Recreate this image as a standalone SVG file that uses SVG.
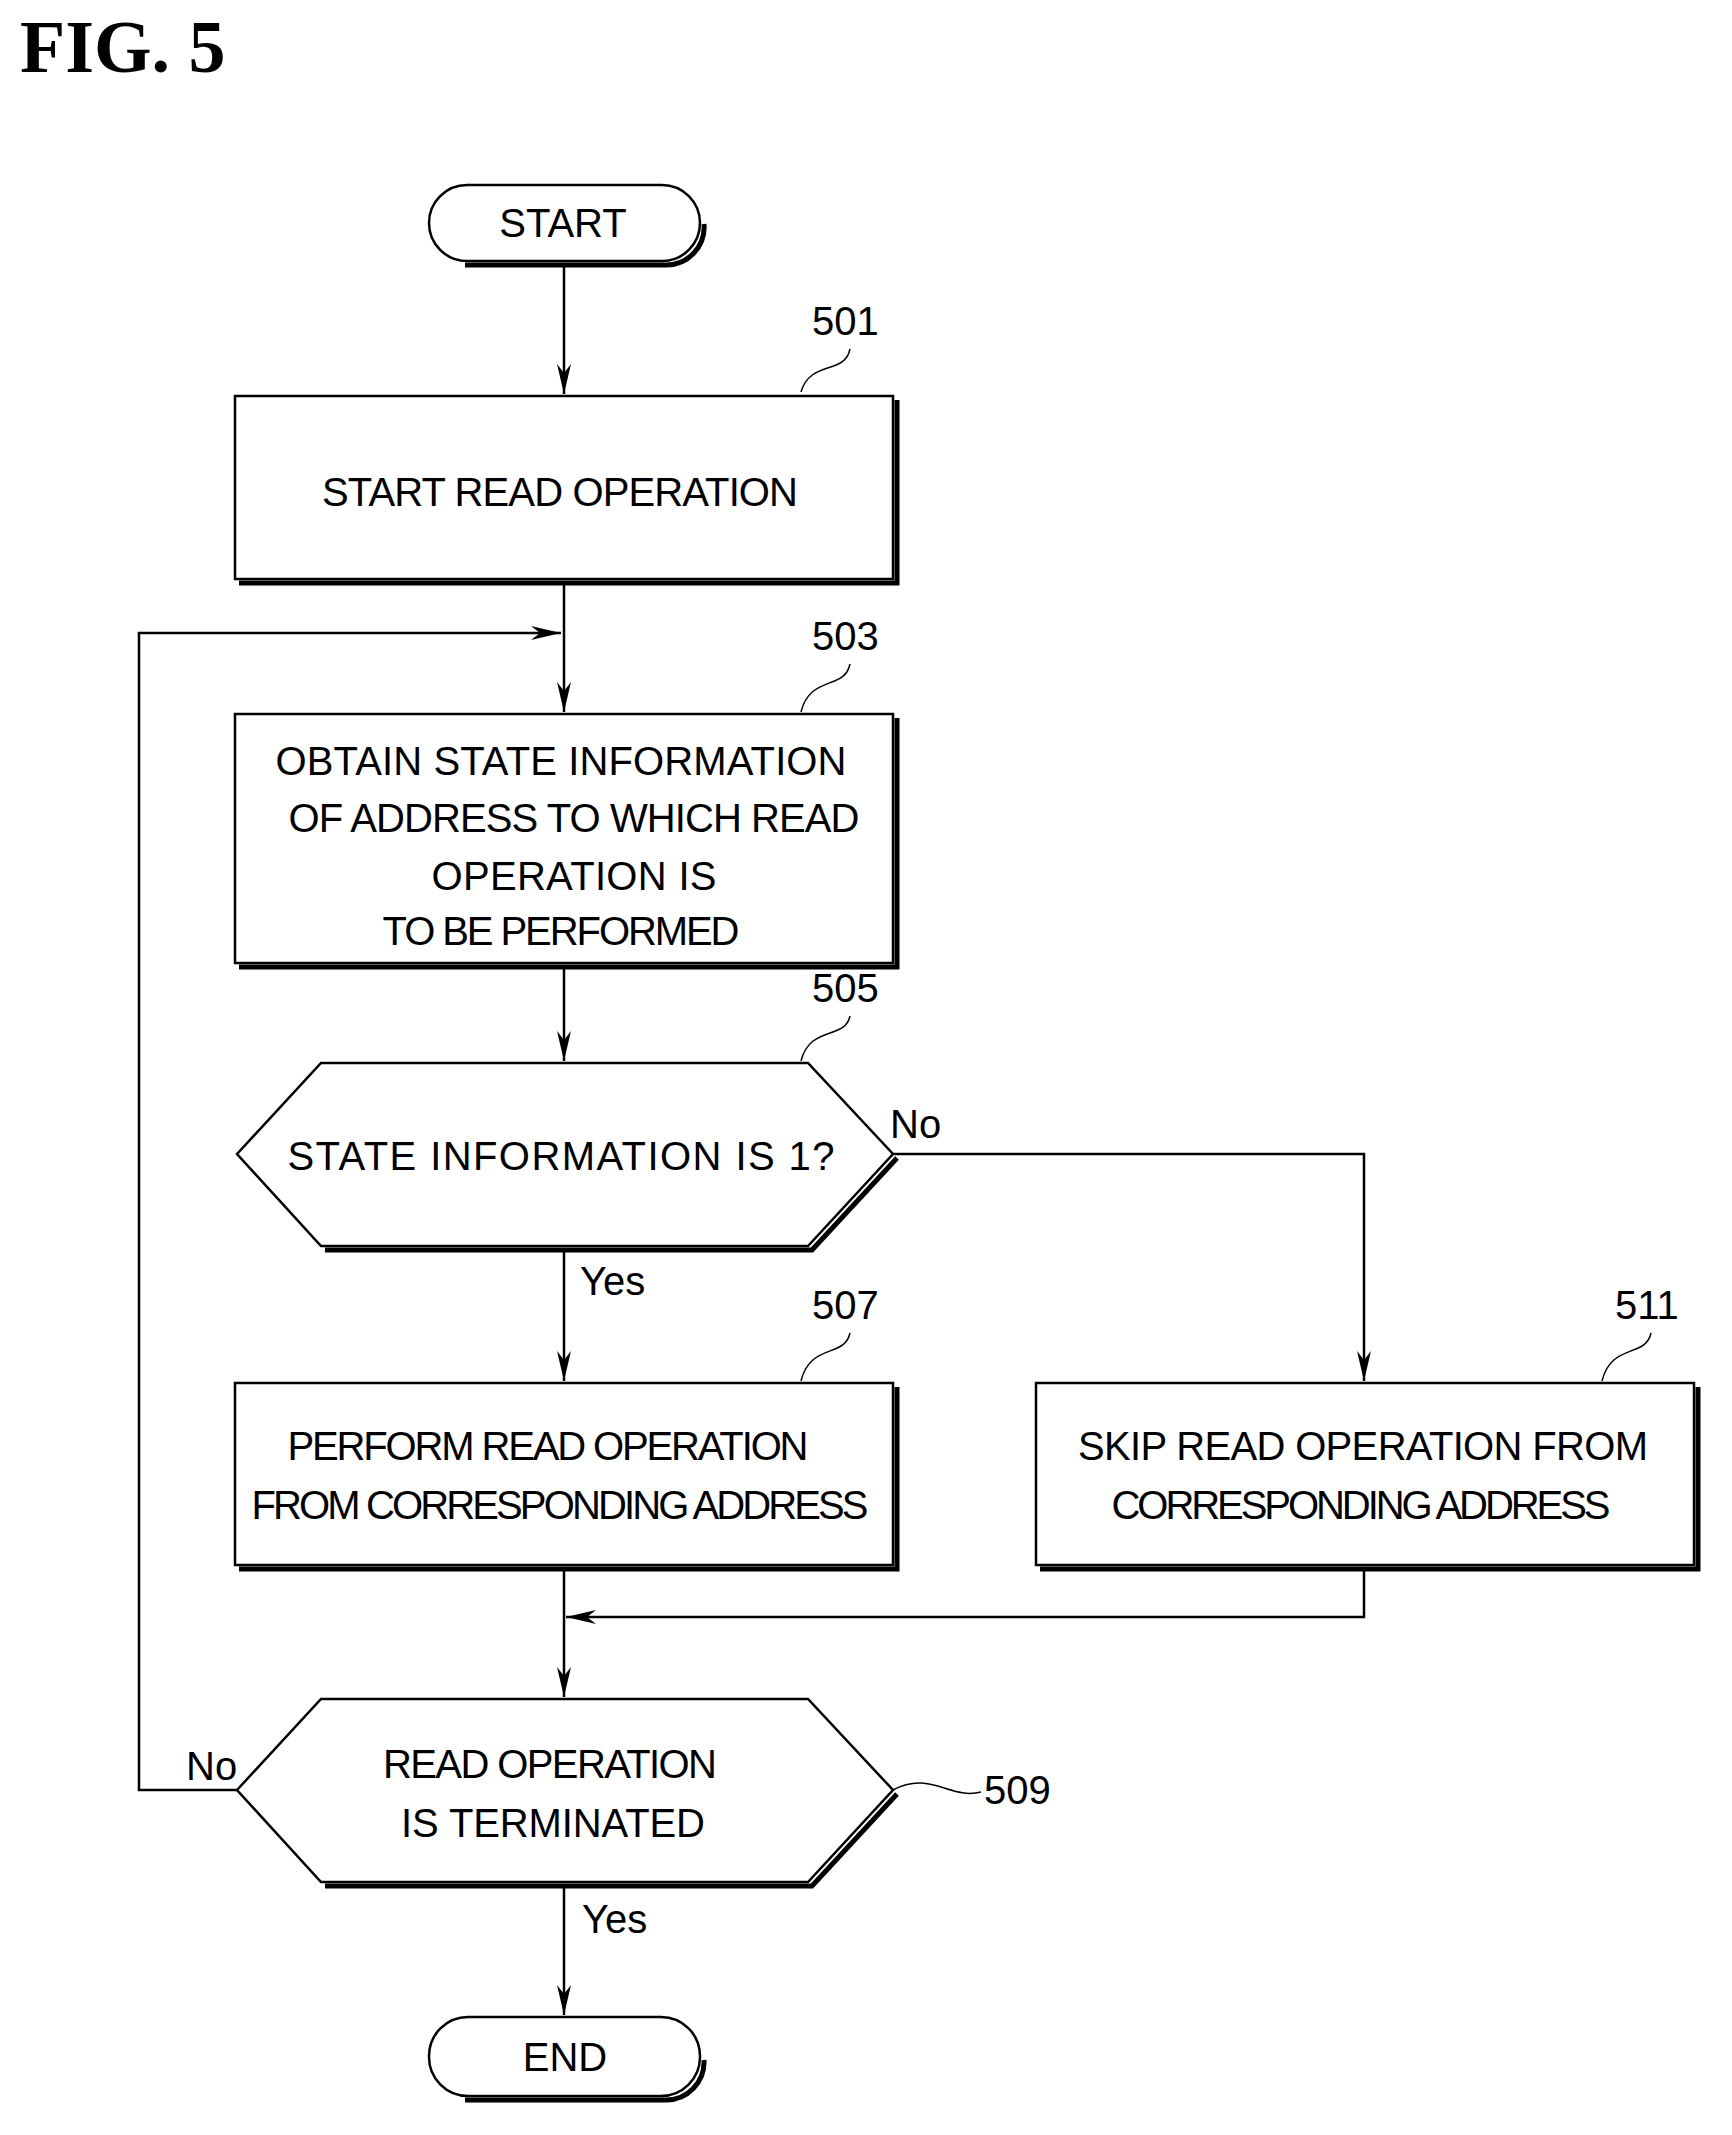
<svg xmlns="http://www.w3.org/2000/svg" width="1732" height="2135" viewBox="0 0 1732 2135">
<style>
.s{fill:#fff;stroke:#000;stroke-width:2.5}
.sh{fill:none;stroke:#000;stroke-width:5}
.t{font-family:"Liberation Sans",Arial,sans-serif;font-size:40px;text-anchor:middle;fill:#000}
.l{font-family:"Liberation Sans",Arial,sans-serif;font-size:40px;fill:#000}
.c{fill:none;stroke:#000;stroke-width:2.5}
.ld{fill:none;stroke:#000;stroke-width:1.5}
</style>
<defs><marker id="a" viewBox="0 0 30 14" refX="30" refY="7" markerWidth="30" markerHeight="14" markerUnits="userSpaceOnUse" orient="auto"><path d="M0,0 L30,7 L0,14 L9,7 z" fill="#000"/></marker></defs>
<rect width="1732" height="2135" fill="#fff"/>
<text x="20" y="72" font-family="Liberation Serif,serif" font-weight="bold" font-size="74">FIG. 5</text>
<g id="start"><path class="sh" d="M465,265 H665 A38,38 0 0 0 704,224"/><rect class="s" x="429" y="185" width="271" height="76" rx="38"/><text class="t" x="563" y="237">START</text></g>
<g id="n501"><path class="sh" d="M239,583 H897 V400"/><rect class="s" x="235" y="396" width="658" height="183"/><text class="t" x="560" y="506" textLength="476">START READ OPERATION</text><text class="l" x="812" y="335">501</text><path class="ld" d="M850,349 C845,375 810,360 801,392"/></g>
<g id="n503"><path class="sh" d="M239,967 H897 V718"/><rect class="s" x="235" y="714" width="658" height="249"/><text class="t" x="561" y="775" textLength="571">OBTAIN STATE INFORMATION</text><text class="t" x="574" y="832" textLength="571">OF ADDRESS TO WHICH READ</text><text class="t" x="574" y="890" textLength="285">OPERATION IS</text><text class="t" x="561" y="945" textLength="357">TO BE PERFORMED</text><text class="l" x="812" y="650">503</text><path class="ld" d="M850,664 C845,690 810,675 801,712"/></g>
<g id="n505"><path class="sh" d="M325,1250 H812 L897,1158"/><polygon class="s" points="237,1154 321,1063 808,1063 893,1154 808,1246 321,1246"/><text class="t" x="561" y="1170" textLength="547">STATE INFORMATION IS 1?</text><text class="l" x="812" y="1002">505</text><path class="ld" d="M850,1016 C845,1040 810,1025 801,1061"/></g>
<g id="n507"><path class="sh" d="M239,1569 H897 V1387"/><rect class="s" x="235" y="1383" width="658" height="182"/><text class="t" x="548" y="1460" textLength="521">PERFORM READ OPERATION</text><text class="t" x="560" y="1519" textLength="617">FROM CORRESPONDING ADDRESS</text><text class="l" x="812" y="1319">507</text><path class="ld" d="M850,1333 C845,1358 810,1343 801,1381"/></g>
<g id="n511"><path class="sh" d="M1040,1569 H1698 V1387"/><rect class="s" x="1036" y="1383" width="658" height="182"/><text class="t" x="1363" y="1460" textLength="570">SKIP READ OPERATION FROM</text><text class="t" x="1361" y="1519" textLength="499">CORRESPONDING ADDRESS</text><text class="l" x="1615" y="1319">511</text><path class="ld" d="M1651,1333 C1646,1358 1611,1343 1602,1381"/></g>
<g id="n509"><path class="sh" d="M325,1886 H812 L897,1794"/><polygon class="s" points="237,1790 321,1699 808,1699 893,1790 808,1882 321,1882"/><text class="t" x="550" y="1778" textLength="334">READ OPERATION</text><text class="t" x="553" y="1837" textLength="304">IS TERMINATED</text><text class="l" x="984" y="1804">509</text><path class="ld" d="M893,1790 C930,1770 950,1800 981,1792"/></g>
<g id="end"><path class="sh" d="M465,2100 H665 A38,38 0 0 0 704,2060"/><rect class="s" x="429" y="2017" width="271" height="79" rx="39"/><text class="t" x="565" y="2071">END</text></g>
<g id="connectors">
<path class="c" d="M564,264 V394" marker-end="url(#a)"/>
<path class="c" d="M564,583 V712" marker-end="url(#a)"/>
<path class="c" d="M237,1790 H139 V633 H561" marker-end="url(#a)"/>
<path class="c" d="M564,967 V1061" marker-end="url(#a)"/>
<path class="c" d="M893,1154 H1364 V1381" marker-end="url(#a)"/>
<path class="c" d="M564,1250 V1381" marker-end="url(#a)"/>
<path class="c" d="M1364,1569 V1617 H566" marker-end="url(#a)"/>
<path class="c" d="M564,1569 V1697" marker-end="url(#a)"/>
<path class="c" d="M564,1886 V2015" marker-end="url(#a)"/>
<text class="l" x="890" y="1138">No</text>
<text class="l" x="580" y="1295">Yes</text>
<text class="l" x="186" y="1780">No</text>
<text class="l" x="582" y="1933">Yes</text>
</g>
</svg>
